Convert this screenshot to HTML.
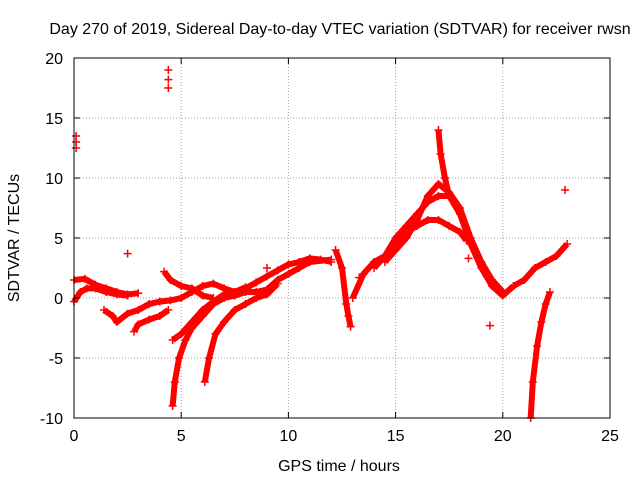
<!DOCTYPE html>
<html><head><meta charset="utf-8"><style>
body{margin:0;background:#fff}
svg text{font-family:"Liberation Sans",sans-serif;font-size:16px;fill:#000}
</style></head><body>
<svg id="chart" width="640" height="480" xmlns="http://www.w3.org/2000/svg">
<rect width="640" height="480" fill="#fff"/>
<text x="340" y="34" text-anchor="middle">Day 270 of 2019, Sidereal Day-to-day VTEC variation (SDTVAR) for receiver rwsn</text>
<text x="339" y="471" text-anchor="middle">GPS time / hours</text>
<text x="0" y="0" text-anchor="middle" transform="translate(19,238) rotate(-90)">SDTVAR / TECUs</text>
<g id="grid"></g>
<g id="marks"></g>
<g id="axes"></g>
</svg>
<script>
const xTicks=[0,5,10,15,20,25];
const yTicks=[-10,-5,0,5,10,15,20];
const trackA=[[0,1.5],[0.5,1.6],[1,1.1],[1.5,0.8],[2,0.5],[2.5,0.3],[3,0.4]];
const trackB=[[0,-0.3],[0.3,0.5],[0.6,0.8],[1,0.8],[1.5,0.5],[2,0.3],[2.5,0.2]];
const trackC=[[1.4,-1],[1.8,-1.5],[2,-2],[2.5,-1.3],[3,-1],[3.5,-0.5],[4,-0.3],[4.5,-0.2],[5,0],[5.5,0.5],[6,1],[6.5,1.2],[7,0.8],[7.5,0.5],[8,0.8],[8.5,1.3],[9,1.8],[9.5,2.3],[10,2.8],[10.5,3],[11,3.3],[11.5,3.2],[12,3]];
const trackD=[[2.8,-2.8],[3,-2.2],[3.5,-1.8],[4,-1.5],[4.4,-1]];
const trackE=[[4.6,-9],[4.7,-7],[4.9,-5],[5.2,-3.5],[5.5,-2.5],[6,-1.5],[6.5,-0.5],[7,0],[7.5,0.2],[8,0.5],[8.5,0.5],[9,0.7],[9.5,1.5],[10,2],[10.5,2.5],[11,3],[12,3.2]];
const trackF=[[6.1,-7],[6.3,-5],[6.6,-3],[7,-2],[7.5,-1],[8,-0.5],[8.5,0],[9,0.3],[9.5,1.2]];
const trackG=[[4.6,-3.5],[5,-3],[5.5,-2],[6,-1],[6.5,-0.3],[7,0.3],[7.5,0.5],[8,0.9]];
const trackH=[[4.2,2.2],[4.5,1.5],[5,1],[5.5,0.8],[6,0.2],[6.5,0]];
const trackI=[[12.2,4],[12.5,2.5],[12.7,-0.5],[12.8,-1.5],[12.9,-2.4]];
const trackJ=[[13,0],[13.5,2],[14,3],[14.5,3.5],[15,4.3],[15.5,5.5],[16,6],[16.5,6.5],[17,6.5],[17.5,6],[18,5.5],[18.3,4.8]];
const trackK=[[14.5,3],[15,4],[15.5,5],[16,6.5],[16.5,8.5],[17,9.5],[17.5,8.8],[18,7.5],[18.5,5],[19,3],[19.5,1.5],[20,0.5]];
const trackL=[[14,2.5],[14.5,3.5],[15,5],[15.5,6],[16,7],[16.5,8],[17,8.5],[17.5,8.5],[18,7],[18.5,4.5],[19,2.5],[19.5,1],[20,0.2],[20.5,1]];
const trackM=[[17,14],[17.1,12],[17.3,10],[17.5,8.5]];
const trackN=[[20.5,1],[21,1.5],[21.5,2.5],[22,3],[22.5,3.5],[23,4.5]];
const trackO=[[21.3,-10],[21.4,-7],[21.6,-4],[21.8,-2],[22,-0.5],[22.2,0.5]];
const spikeP=[[0.1,12.5],[0.1,13],[0.1,13.5],[4.4,17.5],[4.4,18.2],[4.4,19],[2.5,3.7],[22.9,9],[19.4,-2.3],[18.4,3.3],[13.3,1.7],[9,2.5]];
const tracks=[trackA,trackB,trackC,trackD,trackE,trackF,trackG,trackH,trackI,trackJ,trackK,trackL,trackM,trackN,trackO];

const X0=74,X1=610,Y0=418,Y1=58;
const sx=v=>X0+(v-0)/(25-0)*(X1-X0);
const sy=v=>Y0-(v+10)/(30)*(Y0-Y1);
const NS="http://www.w3.org/2000/svg";
const mk=(t,a,p)=>{const e=document.createElementNS(NS,t);for(const k in a)e.setAttribute(k,a[k]);p.appendChild(e);return e;};
const grid=document.getElementById('grid'),axes=document.getElementById('axes'),marks=document.getElementById('marks');
xTicks.forEach(t=>{const x=sx(t);
 if(t>0&&t<25){const g=mk('line',{x1:x,x2:x,y1:Y1,y2:Y0,stroke:'#a0a0a0','stroke-dasharray':'1,2'},grid);
 
 }
 mk('line',{x1:x,x2:x,y1:Y0,y2:Y0-6,stroke:'#000'},axes);mk('line',{x1:x,x2:x,y1:Y1,y2:Y1+6,stroke:'#000'},axes);
 const l=mk('text',{x:x,y:Y0+23,'text-anchor':'middle'},axes);l.textContent=t;
 
 });
yTicks.forEach(t=>{const y=sy(t);
 if(t>-10&&t<20){const g=mk('line',{x1:X0,x2:X1,y1:y,y2:y,stroke:'#a0a0a0','stroke-dasharray':'1,2'},grid);
 
 }
 mk('line',{x1:X0,x2:X0+6,y1:y,y2:y,stroke:'#000'},axes);mk('line',{x1:X1,x2:X1-6,y1:y,y2:y,stroke:'#000'},axes);
 const l=mk('text',{x:X0-11,y:y+6,'text-anchor':'end'},axes);l.textContent=t;
 
 });
const fr=mk('rect',{x:X0,y:Y1,width:X1-X0,height:Y0-Y1,fill:'none',stroke:'#000'},axes);


function plus(v){const x=sx(v[0]),y=sy(v[1]);
 const p=mk('path',{d:`M${x-4},${y}h8M${x},${y-4}v8`,stroke:'#f00','stroke-width':1.5},marks);
 
 }
tracks.forEach(tr=>{
 const pl=mk('polyline',{points:tr.map(p=>sx(p[0])+','+sy(p[1])).join(' '),fill:'none',stroke:'#f00','stroke-width':6,'stroke-linejoin':'round'},marks);
 
 
 tr.forEach(p=>plus(p));});
spikeP.forEach(p=>plus(p));
</script>
</body></html>
